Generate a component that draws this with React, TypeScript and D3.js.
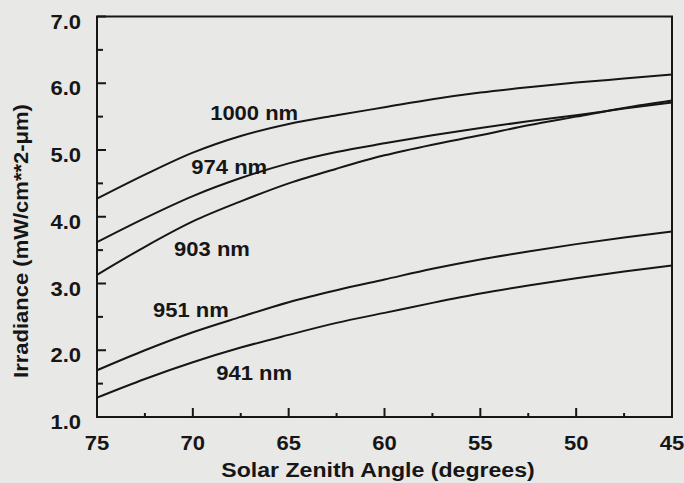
import React from "react";
import * as d3 from "d3";

const angles = [75, 72.5, 70, 67.5, 65, 62.5, 60, 57.5, 55, 52.5, 50, 47.5, 45];
const nm1000 = [4.27, 4.63, 4.96, 5.21, 5.39, 5.52, 5.64, 5.76, 5.86, 5.94, 6.01, 6.07, 6.13];
const nm974 = [3.62, 3.98, 4.31, 4.58, 4.80, 4.97, 5.10, 5.22, 5.33, 5.43, 5.52, 5.62, 5.71];
const nm903 = [3.13, 3.55, 3.93, 4.23, 4.50, 4.72, 4.92, 5.08, 5.22, 5.37, 5.50, 5.63, 5.74];
const nm951 = [1.70, 2.00, 2.27, 2.50, 2.72, 2.90, 3.06, 3.22, 3.36, 3.48, 3.59, 3.69, 3.78];
const nm941 = [1.29, 1.57, 1.82, 2.04, 2.23, 2.41, 2.56, 2.71, 2.85, 2.97, 3.08, 3.18, 3.27];

const seriesNames = ["1000 nm", "974 nm", "903 nm", "951 nm", "941 nm"];
const seriesValues = [nm1000, nm974, nm903, nm951, nm941];
// label centres in data units (angle, irradiance)
const labelAngles = [66.8, 68.1, 69.0, 70.1, 66.8];
const labelValues = [5.55, 4.75, 3.52, 2.6, 1.66];

const yTicks = [1, 2, 3, 4, 5, 6, 7];
const yMinor = [1.5, 2.5, 3.5, 4.5, 5.5, 6.5];
const xTicks = [75, 70, 65, 60, 55, 50, 45];
const xMinor = [72.5, 67.5, 62.5, 57.5, 52.5, 47.5];

const W = 684, H = 483;
const L = 97, R = 672, T = 16.5, B = 417;
const INK = "#161616";
const BG = "#e8e8e6";
const FONT = "'Liberation Sans', Arial, Helvetica, sans-serif";
const SX = 1.1;

export default function App() {
  const x = d3.scaleLinear().domain([75, 45]).range([L, R]);
  const y = d3.scaleLinear().domain([1, 7]).range([B, T]);
  const line = d3
    .line<number>()
    .x((_, i) => x(angles[i]))
    .y((d) => y(d))
    .curve(d3.curveMonotoneX);

  const txt = (s: string, px: number, py: number, anchor: string, size: number, key: string, rot = 0) => (
    <g key={key} transform={`translate(${px},${py}) rotate(${rot}) scale(${SX},1)`}>
      <text
        x={0}
        y={0}
        textAnchor={anchor as any}
        dominantBaseline="central"
        fontFamily={FONT}
        fontWeight="bold"
        fontSize={size}
        fill={INK}
      >
        {s}
      </text>
    </g>
  );

  return (
    <svg width={W} height={H} style={{ position: "absolute", left: 0, top: 0, background: BG }}>
      <rect x={0} y={0} width={W} height={H} fill={BG} />
      {seriesValues.map((vals, i) => (
        <path key={seriesNames[i]} d={line(vals) || ""} fill="none" stroke={INK} strokeWidth={2} />
      ))}
      <rect x={L} y={T} width={R - L} height={B - T} fill="none" stroke={INK} strokeWidth={2} />
      {yTicks.map((t) => (
        <line key={"yt" + t} x1={L} x2={L + 9} y1={y(t)} y2={y(t)} stroke={INK} strokeWidth={2} />
      ))}
      {yMinor.map((t) => (
        <line key={"ym" + t} x1={L} x2={L + 6} y1={y(t)} y2={y(t)} stroke={INK} strokeWidth={2} />
      ))}
      {xTicks.map((t) => (
        <line key={"xt" + t} x1={x(t)} x2={x(t)} y1={B} y2={B - 9} stroke={INK} strokeWidth={2} />
      ))}
      {xMinor.map((t) => (
        <line key={"xm" + t} x1={x(t)} x2={x(t)} y1={B} y2={B - 4} stroke={INK} strokeWidth={2} />
      ))}
      {yTicks.map((t) => txt(t.toFixed(1), 81, y(t) + 5, "end", 20, "yl" + t))}
      {xTicks.map((t) => txt(String(t), x(t), 443, "middle", 20, "xl" + t))}
      {seriesNames.map((n, i) => txt(n, x(labelAngles[i]), y(labelValues[i]), "middle", 20, "lab" + i))}
      {txt("Solar Zenith Angle (degrees)", 378, 470, "middle", 21, "xt")}
      {txt("Irradiance (mW/cm**2-μm)", 21, 241, "middle", 20, "yt", -90)}
    </svg>
  );
}
